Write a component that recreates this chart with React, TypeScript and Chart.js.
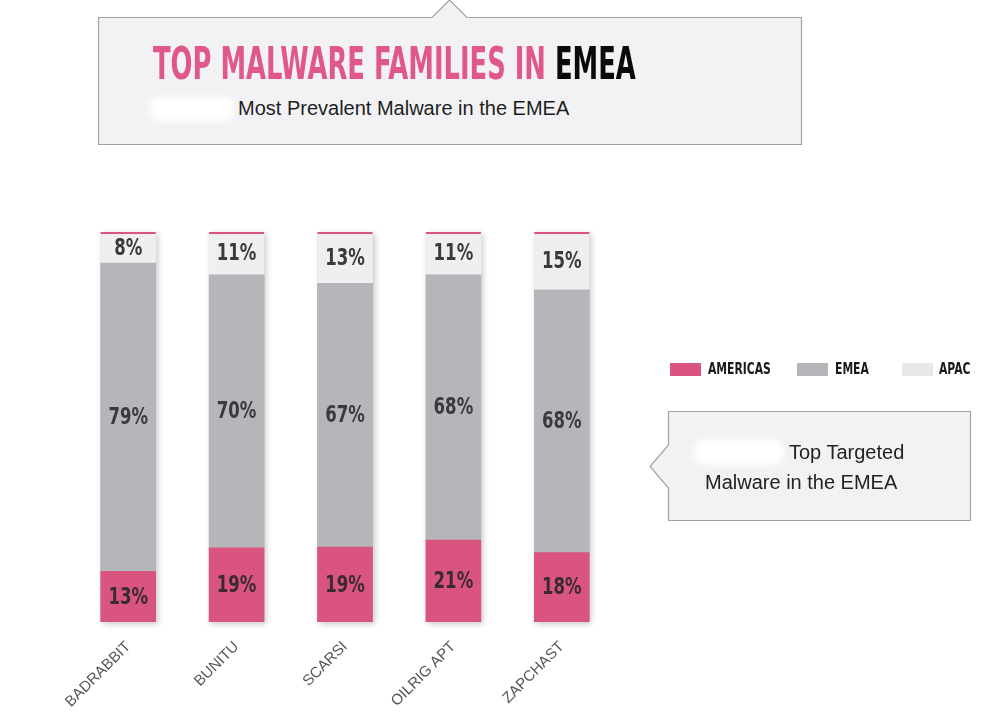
import React, { useEffect, useLayoutEffect, useRef } from "react";
import { Chart, registerables } from "chart.js";

Chart.register(...registerables);

const categories = ["BADRABBIT", "BUNITU", "SCARSI", "OILRIG APT", "ZAPCHAST"];
const americas = [13, 19, 19, 21, 18];
const emea = [79, 70, 67, 68, 68];
const apac = [8, 11, 13, 11, 15];
const seriesNames = ["AMERICAS", "EMEA", "APAC"];

const PINK = "#d9557f";
const GREY = "#b5b6ba";
const LIGHT = "#efeff0";
const COND = "'Liberation Sans Narrow', 'DejaVu Sans Condensed', 'Liberation Sans', sans-serif";

const raw = [americas, emea, apac];
const totals = categories.map((_, i) => americas[i] + emea[i] + apac[i]);
const shares = raw.map((s) => s.map((v, i) => (v / totals[i]) * 100));

const barPlugin = {
  id: "barDeco",
  beforeDatasetsDraw(chart: any) {
    const ctx = chart.ctx;
    const m0 = chart.getDatasetMeta(0).data;
    const m2 = chart.getDatasetMeta(2).data;
    ctx.save();
    ctx.shadowColor = "rgba(0,0,0,0.22)";
    ctx.shadowBlur = 6;
    ctx.shadowOffsetX = 2;
    ctx.shadowOffsetY = 2;
    ctx.fillStyle = GREY;
    m0.forEach((el: any, i: number) => {
      const top = m2[i].y;
      const w = el.width;
      ctx.fillRect(el.x - w / 2, top, w, el.base - top);
    });
    ctx.restore();
  },
  afterDatasetsDraw(chart: any) {
    const ctx = chart.ctx;
    chart.data.datasets.forEach((ds: any, di: number) => {
      chart.getDatasetMeta(di).data.forEach((el: any, i: number) => {
        ctx.save();
        ctx.translate(el.x, (el.y + el.base) / 2 + 1);
        ctx.scale(0.8, 1);
        ctx.textAlign = "center";
        ctx.textBaseline = "middle";
        ctx.font = `bold 23px ${COND}`;
        ctx.fillStyle = di === 0 ? "#3b2a30" : "#3a3a3c";
        ctx.fillText(raw[di][i] + "%", 0, 0);
        ctx.restore();
      });
    });
    const m2 = chart.getDatasetMeta(2).data;
    ctx.save();
    ctx.fillStyle = PINK;
    m2.forEach((el: any) => {
      ctx.fillRect(el.x - el.width / 2, el.y, el.width, 2);
    });
    ctx.restore();
  },
};

function App() {
  const canvasRef = useRef<HTMLCanvasElement>(null);
  const titleRef = useRef<HTMLSpanElement>(null);

  useLayoutEffect(() => {
    const t = titleRef.current;
    if (t) {
      const w = t.offsetWidth;
      t.style.transform = `scaleX(${483 / w})`;
    }
  }, []);

  useEffect(() => {
    const chart = new Chart(canvasRef.current as HTMLCanvasElement, {
      type: "bar",
      data: {
        labels: categories,
        datasets: [
          { label: seriesNames[0], data: shares[0], backgroundColor: PINK },
          { label: seriesNames[1], data: shares[1], backgroundColor: GREY },
          { label: seriesNames[2], data: shares[2], backgroundColor: LIGHT },
        ],
      },
      options: {
        responsive: false,
        animation: false,
        layout: { padding: { left: 74, right: 373, top: 232, bottom: 0 } },
        plugins: { legend: { display: false }, tooltip: { enabled: false } },
        datasets: { bar: { barThickness: 55 } },
        scales: {
          x: {
            stacked: true,
            grid: { display: false },
            border: { display: false },
            ticks: {
              minRotation: 45,
              maxRotation: 45,
              color: "#555",
              padding: 8,
              font: { family: "'Liberation Sans', sans-serif", size: 15 },
            },
            afterFit: (s: any) => {
              s.height = 94;
            },
          },
          y: { stacked: true, display: false, min: 0, max: 100 },
        },
      },
      plugins: [barPlugin],
    } as any);
    return () => chart.destroy();
  }, []);

  const legendItems = [
    { name: seriesNames[0], color: PINK, x: 670, tx: 708 },
    { name: seriesNames[1], color: GREY, x: 797, tx: 835 },
    { name: seriesNames[2], color: "#e8e8e9", x: 902, tx: 939 },
  ];

  return (
    <div style={{ position: "absolute", left: 0, top: 0, width: 989, height: 716, background: "#fff", overflow: "hidden", fontFamily: "'Liberation Sans', sans-serif" }}>
      <svg width={989} height={716} style={{ position: "absolute", left: 0, top: 0 }}>
        <path d="M98.5,17.5 H432 L449.5,0 L467,17.5 H801.5 V144.5 H98.5 Z" fill="#f2f2f4" stroke="#a3a3a3" strokeWidth={1.2} />
        <path d="M668.5,411.5 H970.5 V520.5 H668.5 V488 L650,466.5 L668.5,445 Z" fill="#f2f2f4" stroke="#a3a3a3" strokeWidth={1.2} />
      </svg>
      <div style={{ position: "absolute", left: 153, top: 40, height: 48, whiteSpace: "nowrap" }}>
        <span ref={titleRef} style={{ display: "inline-block", transformOrigin: "0 0", fontFamily: COND, fontWeight: "bold", fontSize: 44, lineHeight: "48px", color: "#e0588a" }}>
          TOP MALWARE FAMILIES IN <span style={{ color: "#0a0a0a" }}>EMEA</span>
        </span>
      </div>
      <div style={{ position: "absolute", left: 150, top: 97, width: 84, height: 24, background: "#fff", borderRadius: 8, filter: "blur(3px)" }} />
      <div style={{ position: "absolute", left: 238, top: 96, fontSize: 20, lineHeight: "24px", color: "#1e1e1e", whiteSpace: "nowrap" }}>
        Most Prevalent Malware in the EMEA
      </div>
      <canvas ref={canvasRef} width={989} height={716} style={{ position: "absolute", left: 0, top: 0 }} />
      {legendItems.map((it) => (
        <React.Fragment key={it.name}>
          <div style={{ position: "absolute", left: it.x, top: 363, width: 31, height: 13, background: it.color }} />
          <div style={{ position: "absolute", left: it.tx, top: 360, fontFamily: COND, fontWeight: "bold", fontSize: 15, lineHeight: "18px", color: "#1a1a1a", whiteSpace: "nowrap", transform: "scaleX(0.8)", transformOrigin: "0 0" }}>
            {it.name}
          </div>
        </React.Fragment>
      ))}
      <div style={{ position: "absolute", left: 694, top: 440, width: 90, height: 25, background: "#fff", borderRadius: 10, filter: "blur(3px)" }} />
      <div style={{ position: "absolute", left: 789, top: 440, fontSize: 20, lineHeight: "24px", color: "#222", whiteSpace: "nowrap" }}>Top Targeted</div>
      <div style={{ position: "absolute", left: 705, top: 470, fontSize: 20, lineHeight: "24px", color: "#222", whiteSpace: "nowrap" }}>Malware in the EMEA</div>
    </div>
  );
}

export default App;
